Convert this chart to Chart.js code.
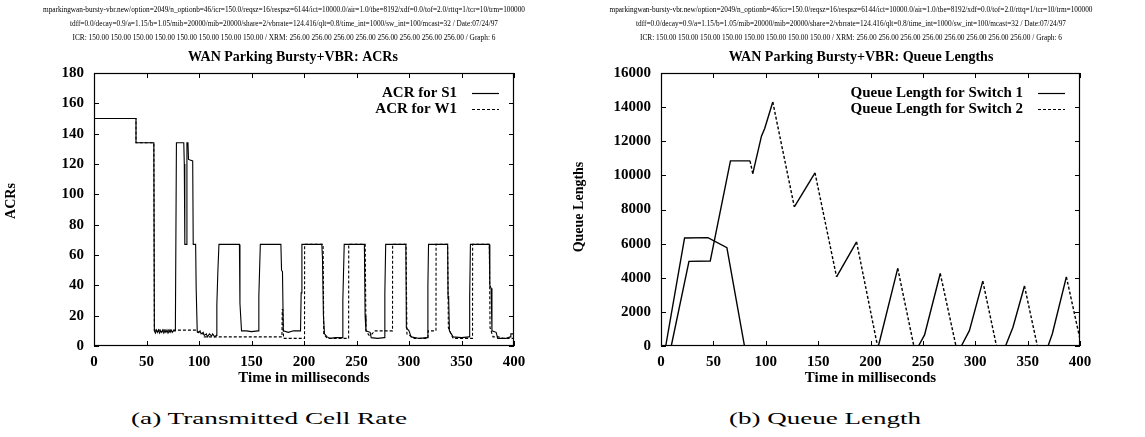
<!DOCTYPE html>
<html>
<head>
<meta charset="utf-8">
<title>WAN Parking Bursty+VBR</title>
<script src="https://cdn.jsdelivr.net/npm/chart.js@4.4.1/dist/chart.umd.min.js"></script>
<style>
  html, body { margin: 0; padding: 0; background: #fff; }
  #page { position: relative; width: 1145px; height: 437px; overflow: hidden; }
  canvas { position: absolute; top: 0; }
  #acrChart { left: 0; }
  #queueChart { left: 572px; }
  .caption {
    position: absolute; top: 409px; line-height: 22px;
    font: 17px "Liberation Serif", serif; white-space: nowrap; transform-origin: 0 0;
  }
  #capA { left: 131px; }
  #capB { left: 729px; }
</style>
</head>
<body>
<div id="page">
  <canvas id="acrChart" width="572" height="400"></canvas>
  <canvas id="queueChart" width="573" height="400"></canvas>
  <div class="caption" id="capA" data-width="276">(a) Transmitted Cell Rate</div>
  <div class="caption" id="capB" data-width="192">(b) Queue Length</div>
</div>
<script>
const SERIF = '"Liberation Serif", "Times New Roman", serif';

// simulation parameters printed above both plots
const runInfo = [
  "mparkingwan-bursty-vbr.new/option=2049/n_optionb=46/icr=150.0/reqsz=16/respsz=6144/ict=10000.0/air=1.0/tbe=8192/xdf=0.0/tof=2.0/rttq=1/tcr=10/trm=100000",
  "tdff=0.0/decay=0.9/a=1.15/b=1.05/mib=20000/mib=20000/share=2/vbrrate=124.416/qlt=0.8/time_int=1000/sw_int=100/mcast=32 / Date:07/24/97",
  "ICR: 150.00 150.00 150.00 150.00 150.00 150.00 150.00 150.00 / XRM: 256.00 256.00 256.00 256.00 256.00 256.00 256.00 256.00 / Graph: 6"
];

const timeTicks = [0, 50, 100, 150, 200, 250, 300, 350, 400];
const acrTicks = [0, 20, 40, 60, 80, 100, 120, 140, 160, 180];
const queueTicks = [0, 2000, 4000, 6000, 8000, 10000, 12000, 14000, 16000];

// [time ms, ACR]
const acrS1 = [
  [0, 150], [40, 150], [40, 134], [57, 134], [57.5, 10], [58.5, 8.5], [59.5, 10.5], [60.5, 9],
  [61.5, 10.5], [62.5, 8.5], [63.5, 10], [64.5, 9], [65.5, 10.5], [66.5, 8.5], [67.5, 10],
  [68.5, 9], [69.5, 10.5], [70.5, 8.5], [71.5, 10], [72.5, 9], [73.5, 10.5], [74.5, 9],
  [75.5, 10], [77.5, 10], [78.5, 134], [85.5, 134], [86, 120],
  [86.5, 67], [88, 67], [88.5, 134], [89.5, 134], [90, 123], [94, 122], [94.5, 67], [96.8, 67],
  [97.3, 38], [98.3, 10], [100, 9], [101, 10], [102, 8], [104, 9], [105, 7], [107, 8], [108, 6],
  [110, 8], [112, 6.5], [113, 8], [115, 6], [116.5, 7], [117, 27], [118, 50], [119, 67],
  [138.5, 67], [139, 28], [140.5, 10], [145, 10], [150, 9.5], [156.3, 10], [157, 33], [158.4, 67],
  [178, 67], [178.6, 50], [179.5, 49], [180.3, 10], [185, 9], [190, 10], [196.7, 10], [197.3, 35],
  [198, 67], [217, 67], [217.6, 58], [218.5, 20], [219.5, 8], [222, 6], [225, 5], [230, 5.5],
  [236.5, 5.5], [237, 30], [238.3, 67], [257.5, 67], [258.2, 20], [259, 10], [263, 9], [264, 5.5],
  [270, 5], [276.5, 5.5], [277, 35], [277.8, 67], [297, 67], [297.5, 12], [300, 10], [302, 6],
  [310, 5], [317.5, 5.5], [318, 40], [318.6, 67], [336.8, 67], [337.2, 33], [337.8, 30],
  [338.5, 10], [342, 6], [350, 5.5], [357.3, 6], [357.8, 33], [358.5, 67], [376.5, 67], [377, 40],
  [378.2, 38], [379, 10], [383, 9], [384.5, 5], [392, 5], [396.5, 6], [397, 8], [399.5, 8],
  [399.8, 67]
];
const acrW1 = [
  [0, 150], [40, 150], [40, 134], [57, 134], [57.5, 10.5], [98, 10.5], [98.5, 9], [104, 8],
  [105, 6], [179, 6], [179.3, 24], [179.8, 24], [180.5, 5], [200.5, 5], [200.6, 67], [218.2, 67],
  [218.8, 8], [222, 5], [242.5, 5], [242.6, 67], [258.3, 67], [259, 10], [262, 7], [265, 8],
  [267, 10], [284.3, 10], [284.4, 67], [297.2, 67], [298, 8], [305, 5], [318, 5], [318.2, 10],
  [325.7, 10], [325.8, 67], [336.8, 67], [337.5, 12], [340, 8], [342, 5], [360.5, 5], [360.6, 67],
  [376.5, 67], [377.2, 12], [380, 6], [385, 6], [390, 5], [400, 5]
];

// [time ms, queue length in cells]
const queueSw1 = [
  [0, 0], [4.5, 0], [22.5, 6330], [44.8, 6350], [62.9, 5760], [79.7, 0], [400, 0]
];
const queueSw2 = [
  [0, 0], [9.8, 0], [26.7, 4960], [47, 4980], [66.3, 10850], [85, 10850], [87.6, 10100],
  [95.9, 12300], [99, 12750], [106.7, 14300], [127.3, 8150], [147, 10150], [167.6, 4050],
  [186.7, 6100], [206.7, 0], [207.5, 0], [209, 350], [226, 4550], [241.4, 0], [245.8, 0],
  [251.6, 650], [266.6, 4250], [281.6, 0], [286.7, 0], [294.4, 900], [307.2, 3800], [320.3, 0],
  [328.9, 0], [336, 1100], [347, 3520], [359.3, 0], [369.5, 0], [373.6, 720], [387, 4050],
  [400, 400]
];

const DASH = [3, 2];
const toXY = pts => pts.map(([x, y]) => ({ x, y }));

Chart.defaults.font.family = SERIF;
Chart.defaults.color = '#000';

// stretch or squeeze a line of text to a given width
function fitText(ctx, text, cx, cy, width) {
  const w = ctx.measureText(text).width;
  ctx.save();
  ctx.translate(cx, cy);
  ctx.scale(width / w, 1);
  ctx.fillText(text, 0, 0);
  ctx.restore();
}

// header, titles, frame with inward ticks, and the legend
const decorations = {
  id: 'decorations',
  afterDraw(chart, args, o) {
    const { ctx, chartArea: a } = chart;
    const xs = chart.scales.x, ys = chart.scales.y;
    ctx.save();
    ctx.fillStyle = '#000';
    ctx.strokeStyle = '#000';
    ctx.textAlign = 'center';
    ctx.textBaseline = 'middle';

    ctx.font = `8px ${SERIF}`;
    runInfo.forEach((line, i) => fitText(ctx, line, o.infoX, 10 + i * 14, o.infoWidths[i]));

    ctx.font = `bold 14px ${SERIF}`;
    ctx.fillText(o.title, o.titleX, 57);

    ctx.font = `bold 15px ${SERIF}`;
    ctx.fillText('Time in milliseconds', (a.left + a.right) / 2, 378);

    ctx.save();
    ctx.translate(o.yTitleX, o.yTitleY);
    ctx.rotate(-Math.PI / 2);
    ctx.font = `bold 14px ${SERIF}`;
    ctx.fillText(o.yTitle, 0, 0);
    ctx.restore();

    ctx.lineWidth = 1.2;
    ctx.strokeRect(a.left + 0.5, a.top + 0.5, a.right - a.left - 1, a.bottom - a.top - 1);
    ctx.lineWidth = 1;
    ctx.beginPath();
    xs.ticks.forEach(t => {
      const px = Math.round(xs.getPixelForValue(t.value)) + 0.5;
      ctx.moveTo(px, a.bottom); ctx.lineTo(px, a.bottom - 5);
      ctx.moveTo(px, a.top); ctx.lineTo(px, a.top + 5);
    });
    ys.ticks.forEach(t => {
      const py = Math.round(ys.getPixelForValue(t.value)) + 0.5;
      ctx.moveTo(a.left, py); ctx.lineTo(a.left + 5, py);
      ctx.moveTo(a.right, py); ctx.lineTo(a.right - 5, py);
    });
    ctx.stroke();

    ctx.textAlign = 'right';
    ctx.font = `bold 15px ${SERIF}`;
    chart.data.datasets.forEach((ds, i) => {
      const y = a.top + 20 + i * 16;
      ctx.fillText(ds.label, a.right - 57, y);
      ctx.setLineDash(ds.legendDash);
      ctx.lineWidth = 1.2;
      ctx.beginPath();
      ctx.moveTo(a.right - 42, y + 0.5);
      ctx.lineTo(a.right - 15, y + 0.5);
      ctx.stroke();
    });
    ctx.restore();
  }
};

function timeAxis() {
  return {
    type: 'linear', min: 0, max: 400,
    afterBuildTicks: s => { s.ticks = timeTicks.map(value => ({ value })); },
    ticks: { maxRotation: 0, padding: 7, font: { size: 15, weight: 'bold' }, callback: v => String(v) },
    grid: { display: false, drawTicks: false },
    border: { display: false },
    afterFit: s => { s.height = 54; }
  };
}

function valueAxis(ticks, width) {
  return {
    type: 'linear', min: ticks[0], max: ticks[ticks.length - 1],
    afterBuildTicks: s => { s.ticks = ticks.map(value => ({ value })); },
    ticks: { padding: 10, font: { size: 15, weight: 'bold' }, callback: v => String(v) },
    grid: { display: false, drawTicks: false },
    border: { display: false },
    afterFit: s => { s.width = width; }
  };
}

function line(label, pts, dash, extra) {
  return Object.assign({
    label, data: toXY(pts), borderColor: '#000', borderWidth: 1.1,
    borderDash: dash, legendDash: dash, pointRadius: 0, tension: 0, fill: false
  }, extra);
}

new Chart(document.getElementById('acrChart'), {
  type: 'line',
  data: {
    datasets: [
      line('ACR for S1', acrS1, []),
      line('ACR for W1', acrW1, DASH)
    ]
  },
  options: {
    responsive: false, animation: false,
    layout: { padding: { top: 73, right: 58, left: 0, bottom: 0 } },
    scales: { x: timeAxis(), y: valueAxis(acrTicks, 94) },
    plugins: {
      legend: { display: false }, tooltip: { enabled: false },
      decorations: {
        infoX: 284, infoWidths: [482, 428, 423],
        title: 'WAN Parking Bursty+VBR: ACRs', titleX: 293,
        yTitle: 'ACRs', yTitleX: 11, yTitleY: 201
      }
    }
  },
  plugins: [decorations]
});

new Chart(document.getElementById('queueChart'), {
  type: 'line',
  data: {
    datasets: [
      line('Queue Length for Switch 1', queueSw1, [], { borderWidth: 1.4 }),
      // switch 2 trace: solid while the queue builds, dashed while it drains
      line('Queue Length for Switch 2', queueSw2, [], {
        borderWidth: 1.4, legendDash: DASH,
        segment: { borderDash: c => (c.p1.parsed.y < c.p0.parsed.y ? DASH : []) }
      })
    ]
  },
  options: {
    responsive: false, animation: false,
    layout: { padding: { top: 73, right: 65, left: 0, bottom: 0 } },
    scales: { x: timeAxis(), y: valueAxis(queueTicks, 89) },
    plugins: {
      legend: { display: false }, tooltip: { enabled: false },
      decorations: {
        infoX: 279, infoWidths: [483, 430, 422],
        title: 'WAN Parking Bursty+VBR: Queue Lengths', titleX: 289,
        yTitle: 'Queue Lengths', yTitleX: 7, yTitleY: 207
      }
    }
  },
  plugins: [decorations]
});

// sub-figure captions, widened to their printed width
document.querySelectorAll('.caption').forEach(el => {
  const w = el.getBoundingClientRect().width;
  el.style.transform = `scaleX(${el.dataset.width / w})`;
});
</script>
</body>
</html>
